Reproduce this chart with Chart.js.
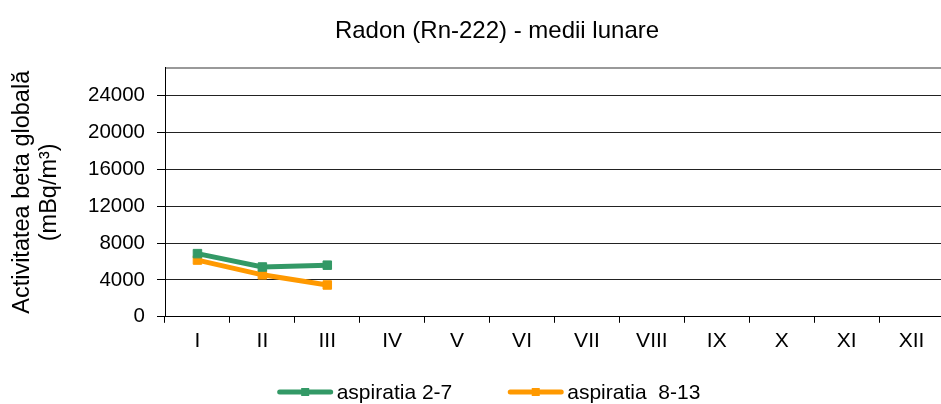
<!DOCTYPE html>
<html>
<head>
<meta charset="utf-8">
<script src="https://cdn.jsdelivr.net/npm/chart.js@4"></script>
<style>
  html, body { margin: 0; padding: 0; background: #fff; }
  #wrap { width: 941px; height: 404px; overflow: hidden; }
</style>
</head>
<body>
<div id="wrap"><canvas id="graficRadon" width="994" height="404"></canvas></div>
<script>
// date
const luni = ['I', 'II', 'III', 'IV', 'V', 'VI', 'VII', 'VIII', 'IX', 'X', 'XI', 'XII'];
const aspiratia27 = [6850, 5400, 5600, null, null, null, null, null, null, null, null, null];
const aspiratia813 = [6150, 4550, 3450, null, null, null, null, null, null, null, null, null];
const etichete = ['aspiratia 2-7', 'aspiratia  8-13'];
const ticuriY = [0, 4000, 8000, 12000, 16000, 20000, 24000];
const maxY = 27000;

const VERDE = '#339966';
const PORTOCALIU = '#FF9900';
const FONT = 'Arial, "Liberation Sans", sans-serif';

// legenda desenata manual (linie + patrat), centrata jos
const legendaExcel = {
    id: 'legendaExcel',
    afterDraw(chart) {
        const ctx = chart.ctx;
        ctx.save();
        ctx.font = '21px ' + FONT;
        ctx.textBaseline = 'middle';
        const lung = 55, spatiu = 4, intre = 56;
        const items = chart.data.datasets.map(ds => ({
            text: ds.label, color: ds.borderColor,
            w: lung + spatiu + ctx.measureText(ds.label).width
        }));
        const total = items.reduce((s, it) => s + it.w, 0) + intre * (items.length - 1);
        let x = 489 - total / 2;
        const y = 392;
        items.forEach(it => {
            ctx.strokeStyle = it.color;
            ctx.lineWidth = 5;
            ctx.lineCap = 'round';
            ctx.beginPath();
            ctx.moveTo(x + 2, y);
            ctx.lineTo(x + lung - 2, y);
            ctx.stroke();
            ctx.fillStyle = it.color;
            ctx.fillRect(x + lung / 2 - 4, y - 4, 8, 8);
            ctx.fillStyle = '#000';
            ctx.fillText(it.text, x + lung + spatiu, y + 1);
            x += it.w + intre;
        });
        ctx.restore();
    }
};

new Chart(document.getElementById('graficRadon').getContext('2d'), {
    type: 'line',
    data: {
        labels: luni,
        datasets: [
            {
                label: etichete[0],
                data: aspiratia27,
                borderColor: VERDE,
                backgroundColor: VERDE,
                borderWidth: 5,
                pointStyle: 'rect',
                pointRadius: 6,
                pointBorderWidth: 1,
                tension: 0
            },
            {
                label: etichete[1],
                data: aspiratia813,
                borderColor: PORTOCALIU,
                backgroundColor: PORTOCALIU,
                borderWidth: 5,
                pointStyle: 'rect',
                pointRadius: 6,
                pointBorderWidth: 1,
                tension: 0
            }
        ]
    },
    options: {
        responsive: false,
        animation: false,
        layout: { padding: { left: 0, right: 0, top: 0, bottom: 44 } },
        plugins: {
            legend: { display: false },
            tooltip: { enabled: false },
            title: {
                display: true,
                text: 'Radon (Rn-222) - medii lunare',
                color: '#000',
                font: { family: FONT, size: 24, weight: 'normal', lineHeight: 1.2 },
                padding: { top: 17, bottom: 22 }
            }
        },
        scales: {
            x: {
                offset: true,
                grid: {
                    offset: true,
                    drawOnChartArea: false,
                    drawTicks: true,
                    tickLength: 6,
                    color: '#000'
                },
                border: { display: true, color: '#000', width: 1 },
                ticks: {
                    color: '#000',
                    padding: 6,
                    maxRotation: 0,
                    autoSkip: false,
                    font: { family: FONT, size: 21 }
                }
            },
            y: {
                min: 0,
                max: maxY,
                afterBuildTicks: s => { s.ticks = ticuriY.concat([maxY]).map(v => ({ value: v })); },
                afterFit: s => { s.width = 165; },
                grid: {
                    color: c => c.tick && c.tick.value === maxY ? '#999' : '#222',
                    lineWidth: c => c.tick && c.tick.value === maxY ? 2 : 1,
                    tickColor: c => c.tick && c.tick.value === maxY ? 'rgba(0,0,0,0)' : '#000',
                    tickLength: 8
                },
                border: { display: true, color: '#000', width: 1 },
                ticks: {
                    color: '#000',
                    padding: 12,
                    font: { family: FONT, size: 20.5 },
                    callback: v => v === maxY ? '' : String(v)
                },
                title: {
                    display: true,
                    text: ['Activitatea beta globală', '(mBq/m³)'],
                    color: '#000',
                    font: { family: FONT, size: 23.5, lineHeight: 1.15 },
                    padding: { top: 9, bottom: 0 }
                }
            },
            // spatiu gol la dreapta (zona de grafic continua dincolo de marginea imaginii)
            spatiuDreapta: {
                type: 'linear',
                position: 'right',
                display: true,
                afterFit: s => { s.width = 50; },
                grid: { drawOnChartArea: false, drawTicks: false, display: false },
                border: { display: false },
                ticks: { display: false }
            }
        }
    },
    plugins: [legendaExcel]
});
</script>
</body>
</html>
